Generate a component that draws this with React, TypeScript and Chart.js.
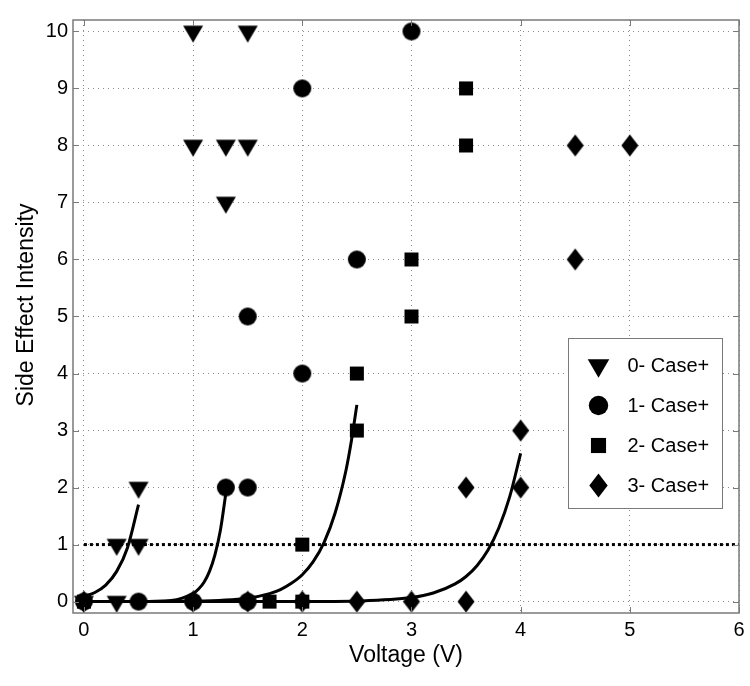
import { useEffect, useRef } from "react";
import { Chart, registerables } from "chart.js";

Chart.register(...registerables);

// ---------- data ----------
const seriesNames = ["0- Case+", "1- Case+", "2- Case+", "3- Case+"];

const case0X = [0, 0.3, 0.3, 0.5, 0.5, 1, 1, 1.3, 1.3, 1.5, 1.5];
const case0Y = [0, 0, 1, 1, 2, 8, 10, 7, 8, 8, 10];

const case1X = [0, 0.5, 1, 1.5, 1.3, 1.5, 2, 1.5, 2.5, 2, 3];
const case1Y = [0, 0, 0, 0, 2, 2, 4, 5, 6, 9, 10];

const case2X = [0, 1.7, 2, 2, 2.5, 2.5, 3, 3, 3.5, 3.5];
const case2Y = [0, 0, 0, 1, 3, 4, 5, 6, 8, 9];

const case3X = [0, 1, 1.5, 2, 2.5, 3, 3.5, 3.5, 4, 4, 4.5, 4.5, 5];
const case3Y = [0, 0, 0, 0, 0, 0, 0, 2, 2, 3, 6, 8, 8];

// fitted curves
const fit0X = [0, 0.1, 0.2, 0.3, 0.4, 0.5];
const fit0Y = [0.09, 0.16, 0.29, 0.53, 0.95, 1.7];

const fit1X = [0, 0.5, 0.8, 0.9, 1.0, 1.05, 1.1, 1.15, 1.2, 1.25, 1.3];
const fit1Y = [0, 0, 0.02, 0.06, 0.14, 0.22, 0.34, 0.53, 0.82, 1.25, 1.9];

const fit2X = [0, 1.0, 1.5, 1.7, 1.8, 1.9, 2.0, 2.1, 2.2, 2.3, 2.4, 2.45, 2.5];
const fit2Y = [0, 0.01, 0.06, 0.14, 0.21, 0.32, 0.47, 0.7, 1.04, 1.55, 2.3, 2.82, 3.45];

const fit3X = [0, 2.0, 2.5, 3.0, 3.2, 3.4, 3.5, 3.6, 3.7, 3.8, 3.9, 4.0];
const fit3Y = [0, 0, 0.01, 0.07, 0.15, 0.31, 0.44, 0.63, 0.9, 1.29, 1.84, 2.6];

const thresholdX = [0, 6];
const thresholdY = [1, 1];

const xTicks = [0, 1, 2, 3, 4, 5, 6];
const yTicks = [0, 1, 2, 3, 4, 5, 6, 7, 8, 9, 10];

const xTitle = "Voltage (V)";
const yTitle = "Side Effect Intensity";

// ---------- helpers ----------
const FONT = "'Liberation Sans', Arial, Helvetica, sans-serif";
const markerKinds = ["tri", "circle", "square", "diamond"];

function pts(xs: number[], ys: number[]) {
  return xs.map((x, i) => ({ x, y: ys[i] }));
}

function drawMarker(ctx: CanvasRenderingContext2D, kind: string, x: number, y: number, s = 1) {
  ctx.beginPath();
  if (kind === "tri") {
    ctx.moveTo(x - 10 * s, y - 5.7 * s);
    ctx.lineTo(x + 10 * s, y - 5.7 * s);
    ctx.lineTo(x, y + 11.3 * s);
    ctx.closePath();
  } else if (kind === "circle") {
    ctx.arc(x, y, 9 * s, 0, Math.PI * 2);
  } else if (kind === "square") {
    ctx.rect(x - 7 * s, y - 7 * s, 14 * s, 14 * s);
  } else {
    ctx.moveTo(x, y - 11 * s);
    ctx.lineTo(x + 8.5 * s, y);
    ctx.lineTo(x, y + 11 * s);
    ctx.lineTo(x - 8.5 * s, y);
    ctx.closePath();
  }
  ctx.fillStyle = "#000";
  ctx.fill();
}

function markerCanvas(kind: string) {
  const c = document.createElement("canvas");
  c.width = 28;
  c.height = 28;
  const ctx = c.getContext("2d")!;
  drawMarker(ctx, kind, 14, 14);
  return c;
}

const decorPlugin = {
  id: "matlabDecor",
  afterDraw(chart: any) {
    const { ctx, chartArea: a, scales } = chart;
    ctx.save();
    // box
    ctx.strokeStyle = "#7a7a7a";
    ctx.lineWidth = 1.5;
    ctx.strokeRect(a.left, a.top, a.right - a.left, a.bottom - a.top);
    // inner ticks
    ctx.lineWidth = 1;
    ctx.beginPath();
    for (const v of xTicks) {
      const px = Math.round(scales.x.getPixelForValue(v)) + 0.5;
      ctx.moveTo(px, a.top);
      ctx.lineTo(px, a.top + 6);
      ctx.moveTo(px, a.bottom);
      ctx.lineTo(px, a.bottom - 6);
    }
    for (const v of yTicks) {
      const py = Math.round(scales.y.getPixelForValue(v)) + 0.5;
      ctx.moveTo(a.left, py);
      ctx.lineTo(a.left + 6, py);
      ctx.moveTo(a.right, py);
      ctx.lineTo(a.right - 6, py);
    }
    ctx.stroke();

    // y axis title (rotated)
    ctx.save();
    ctx.translate(27, 305);
    ctx.rotate(-Math.PI / 2);
    ctx.font = `23px ${FONT}`;
    ctx.fillStyle = "#000";
    ctx.textAlign = "center";
    ctx.textBaseline = "middle";
    ctx.fillText(yTitle, 0, 0);
    ctx.restore();

    // legend
    const lx = 568.5, ly = 338.5, lw = 154, lh = 170;
    ctx.fillStyle = "#fff";
    ctx.fillRect(lx, ly, lw, lh);
    ctx.strokeStyle = "#7a7a7a";
    ctx.lineWidth = 1;
    ctx.strokeRect(lx, ly, lw, lh);
    ctx.font = `20px ${FONT}`;
    ctx.textBaseline = "middle";
    ctx.textAlign = "left";
    seriesNames.forEach((name, i) => {
      const cy = ly + 27 + i * 40;
      drawMarker(ctx, markerKinds[i], lx + 30, cy, 1.08);
      ctx.fillStyle = "#000";
      ctx.fillText(name, lx + 59, cy + 1);
    });
    ctx.restore();
  },
};

export default function App() {
  const ref = useRef<HTMLCanvasElement>(null);

  useEffect(() => {
    document.body.style.margin = "0";
    const markers = markerKinds.map(markerCanvas);
    const caseX = [case0X, case1X, case2X, case3X];
    const caseY = [case0Y, case1Y, case2Y, case3Y];
    const fitX = [fit0X, fit1X, fit2X, fit3X];
    const fitY = [fit0Y, fit1Y, fit2Y, fit3Y];

    const markerSets = seriesNames.map((name, i) => ({
      label: name,
      data: pts(caseX[i], caseY[i]),
      pointStyle: markers[i],
      pointRadius: 10,
      pointHoverRadius: 10,
      backgroundColor: "#000",
      borderColor: "#000",
      showLine: false,
    }));
    const lineSets = seriesNames.map((name, i) => ({
      label: name + " fit",
      data: pts(fitX[i], fitY[i]),
      showLine: true,
      pointRadius: 0,
      borderColor: "#000",
      borderWidth: 3,
      cubicInterpolationMode: "monotone",
      fill: false,
    }));
    const threshold = {
      label: "threshold",
      data: pts(thresholdX, thresholdY),
      showLine: true,
      pointRadius: 0,
      borderColor: "#000",
      borderWidth: 3,
      borderDash: [3, 3],
      fill: false,
    };

    const chart = new Chart(ref.current!, {
      type: "scatter",
      data: { datasets: [...markerSets, ...lineSets, threshold] as any },
      options: {
        responsive: false,
        animation: false,
        devicePixelRatio: 1,
        layout: { padding: { top: 20, right: 9, bottom: 0, left: 0 } },
        plugins: { legend: { display: false }, tooltip: { enabled: false } },
        scales: {
          x: {
            type: "linear",
            min: -0.1,
            max: 6,
            afterBuildTicks: (s: any) => {
              s.ticks = xTicks.map((v) => ({ value: v }));
            },
            afterFit: (s: any) => {
              s.height = 73;
            },
            ticks: {
              color: "#000",
              padding: 5,
              font: { family: FONT, size: 20 },
              callback: (v: any) => String(v),
            },
            grid: { color: "#8c8c8c", lineWidth: 1, drawTicks: false },
            border: { display: false, dash: [1, 4] },
            title: {
              display: true,
              text: xTitle,
              color: "#000",
              font: { family: FONT, size: 23 },
              padding: { top: 0, bottom: 17 },
            },
          },
          y: {
            type: "linear",
            min: -0.2,
            max: 10.2,
            afterBuildTicks: (s: any) => {
              s.ticks = yTicks.map((v) => ({ value: v }));
            },
            afterFit: (s: any) => {
              s.width = 73;
            },
            ticks: {
              color: "#000",
              padding: 5,
              font: { family: FONT, size: 20 },
              callback: (v: any) => String(v),
            },
            grid: { color: "#8c8c8c", lineWidth: 1, drawTicks: false },
            border: { display: false, dash: [1, 4] },
            title: { display: false, text: yTitle },
          },
        },
      } as any,
      plugins: [decorPlugin],
    });
    return () => chart.destroy();
  }, []);

  return (
    <div style={{ width: 750, height: 686 }}>
      <canvas ref={ref} width={750} height={686} style={{ display: "block" }} />
    </div>
  );
}
